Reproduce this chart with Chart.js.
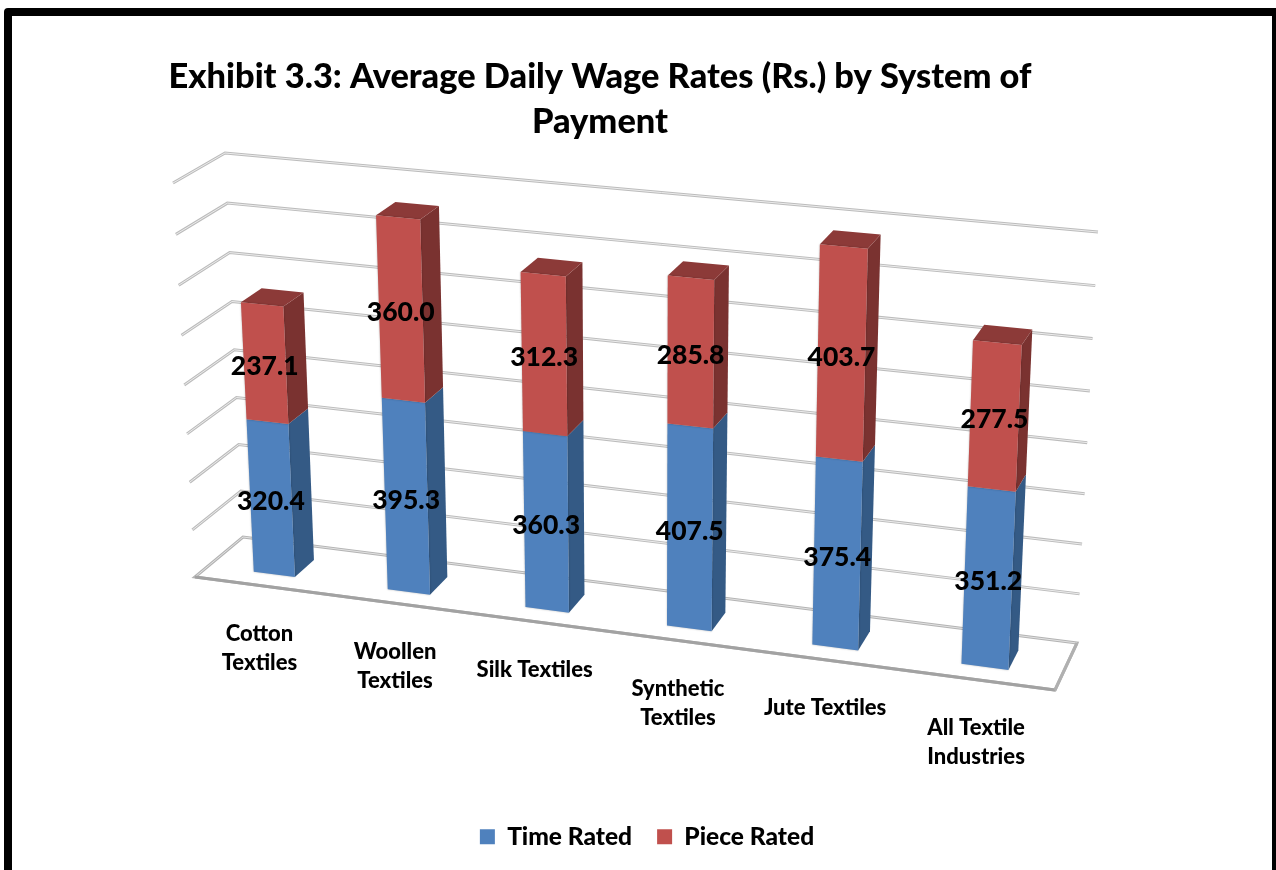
<!DOCTYPE html>
<html lang="en">
<head>
<meta charset="UTF-8">
<title>Exhibit 3.3</title>
<script src="https://cdn.jsdelivr.net/npm/chart.js"></script>
<style>
    html, body { margin: 0; padding: 0; background: #fff; overflow: hidden; width: 1276px; height: 870px; }
    #frame { position: absolute; left: 4px; top: 8px; width: 1276px; height: 900px; box-sizing: border-box; border: 8px solid #000; border-radius: 4px; }
    canvas { position: absolute; left: 0; top: 0; }
</style>
</head>
<body>
<div id="frame"></div>
<canvas id="wageChart" width="1294" height="870"></canvas>
<script>
    const categories = [['Cotton', 'Textiles'], ['Woollen', 'Textiles'], ['Silk Textiles'], ['Synthetic', 'Textiles'], ['Jute Textiles'], ['All Textile', 'Industries']];
    const timeRated = [320.4, 395.3, 360.3, 407.5, 375.4, 351.2];
    const pieceRated = [237.1, 360.0, 312.3, 285.8, 403.7, 277.5];
    const axisMax = 800;
    const axisStep = 100;

    const fontFamily = 'Lato, "Open Sans", sans-serif';

    // Corners of the 3D box as seen on the page (front plane, then back wall)
    const box = {
        frontBottomLeft: [195, 577], frontBottomRight: [1055, 690],
        frontTopLeft: [173, 183], frontTopRight: [1074, 267],
        backBottomLeft: [243, 537], backBottomRight: [1077, 643],
        backTopLeft: [225, 153], backTopRight: [1098, 232]
    };
    const barFrontDepth = 0.28;
    const barBackDepth = 0.7;

    const lerp = (a, b, t) => [a[0] + (b[0] - a[0]) * t, a[1] + (b[1] - a[1]) * t];

    // u, v are 0..1 across the chart area, d is 0 (front) .. 1 (back wall)
    function project(u, v, d) {
        const uw = u - 0.08 * u * (1 - u); // right side is nearer, so it spreads out
        const vw = v - 0.05 * v * (1 - v); // gridlines open up slightly towards the top
        const front = lerp(lerp(box.frontBottomLeft, box.frontBottomRight, uw), lerp(box.frontTopLeft, box.frontTopRight, uw), vw);
        const back = lerp(lerp(box.backBottomLeft, box.backBottomRight, uw), lerp(box.backTopLeft, box.backTopRight, uw), vw);
        return lerp(front, back, d);
    }

    function poly(ctx, pts, fill) {
        ctx.beginPath();
        pts.forEach((p, i) => i ? ctx.lineTo(p[0], p[1]) : ctx.moveTo(p[0], p[1]));
        ctx.closePath();
        ctx.fillStyle = fill;
        ctx.fill();
    }

    function wallLine(ctx, pts, closed, color, width) {
        ctx.beginPath();
        pts.forEach((p, i) => i ? ctx.lineTo(p[0], p[1]) : ctx.moveTo(p[0], p[1]));
        if (closed) ctx.closePath();
        ctx.strokeStyle = color;
        ctx.lineWidth = width;
        ctx.lineJoin = 'miter';
        ctx.stroke();
    }

    const box3d = {
        id: 'box3d',
        afterLayout(chart) {
            // title sits left of the canvas centre in the original
            chart.titleBlock.left -= 47;
            chart.titleBlock.right -= 47;
        },
        beforeDatasetsDraw(chart) {
            const ctx = chart.ctx;
            const area = chart.chartArea;
            const yScale = chart.scales.y;
            const xScale = chart.scales.x;
            const toU = x => (x - area.left) / area.width;
            const toV = y => (area.bottom - y) / area.height;

            // walls and gridlines
            yScale.ticks.forEach(tick => {
                const v = toV(yScale.getPixelForValue(tick.value));
                if (v < 0.001) return;
                const pts = [project(0, v, 0), project(0, v, 1), project(1, v, 1)];
                wallLine(ctx, pts, false, '#bcbcbc', 3);
                wallLine(ctx, pts, false, '#ececec', 1);
            });
            const floor = [project(0, 0, 0), project(0, 0, 1), project(1, 0, 1), project(1, 0, 0)];
            wallLine(ctx, floor, true, '#b4b4b4', 3);
            wallLine(ctx, floor, true, '#e2e2e2', 1);
            wallLine(ctx, [floor[3], floor[0]], false, '#a2a2a2', 3);
            wallLine(ctx, [floor[2], floor[3]], false, '#b0b0b0', 3);

            // bars, bottom segment first
            chart.data.datasets.forEach((ds, di) => {
                const meta = chart.getDatasetMeta(di);
                meta.data.forEach(bar => {
                    const u0 = toU(bar.x - bar.width / 2);
                    const u1 = toU(bar.x + bar.width / 2);
                    const v0 = toV(bar.base);
                    const v1 = toV(bar.y);
                    const fbl = project(u0, v0, barFrontDepth);
                    const fbr = project(u1, v0, barFrontDepth);
                    const ftl = project(u0, v1, barFrontDepth);
                    const ftr = project(u1, v1, barFrontDepth);
                    const bbr = project(u1, v0, barBackDepth);
                    const btr = project(u1, v1, barBackDepth);
                    const btl = project(u0, v1, barBackDepth);
                    poly(ctx, [fbr, bbr, btr, ftr], ds.sideColor);
                    if (di === chart.data.datasets.length - 1) {
                        poly(ctx, [ftl, ftr, btr, btl], ds.topColor);
                    }
                    ctx.save();
                    ctx.shadowColor = 'rgba(0,0,0,0.3)';
                    ctx.shadowBlur = 2;
                    poly(ctx, [fbl, fbr, ftr, ftl], ds.backgroundColor);
                    ctx.restore();
                });
            });

            // category labels follow the slanted floor edge
            ctx.fillStyle = '#000';
            ctx.font = '900 22px ' + fontFamily;
            ctx.textAlign = 'center';
            ctx.textBaseline = 'middle';
            categories.forEach((lines, i) => {
                const p = project(toU(xScale.getPixelForValue(i)), 0, 0);
                lines.forEach((line, k) => ctx.fillText(line, p[0] - 2, p[1] + 48 + k * 29));
            });

            // value labels
            ctx.font = '900 26.5px ' + fontFamily;
            chart.data.datasets.forEach((ds, di) => {
                chart.getDatasetMeta(di).data.forEach((bar, i) => {
                    const p = project(toU(bar.x), (toV(bar.base) + toV(bar.y)) / 2, barFrontDepth);
                    ctx.fillText(ds.data[i].toFixed(1), p[0], p[1] + 3);
                });
            });
            return false;
        }
    };

    new Chart(document.getElementById('wageChart').getContext('2d'), {
        type: 'bar',
        data: {
            labels: categories,
            datasets: [
                { label: 'Time Rated', data: timeRated, backgroundColor: '#4F81BD', sideColor: '#345A85', topColor: '#3E6797' },
                { label: 'Piece Rated', data: pieceRated, backgroundColor: '#C0504D', sideColor: '#7A3230', topColor: '#8C3A38' }
            ]
        },
        options: {
            responsive: false,
            animation: false,
            layout: { padding: { top: 54, bottom: 11 } },
            barPercentage: 0.31,
            categoryPercentage: 1,
            scales: {
                x: { stacked: true, display: false },
                y: { stacked: true, display: false, min: 0, max: axisMax, ticks: { stepSize: axisStep } }
            },
            plugins: {
                title: {
                    display: true,
                    text: ['Exhibit 3.3: Average Daily Wage Rates (Rs.) by System of', 'Payment'],
                    color: '#000',
                    font: { family: fontFamily, size: 34.4, weight: '900', lineHeight: 1.31 },
                    padding: 0
                },
                legend: {
                    position: 'bottom',
                    labels: {
                        color: '#000',
                        boxWidth: 15,
                        boxHeight: 15,
                        padding: 25,
                        font: { family: fontFamily, size: 24.5, weight: '900' }
                    }
                },
                tooltip: { enabled: false }
            }
        },
        plugins: [box3d]
    });
</script>
</body>
</html>
